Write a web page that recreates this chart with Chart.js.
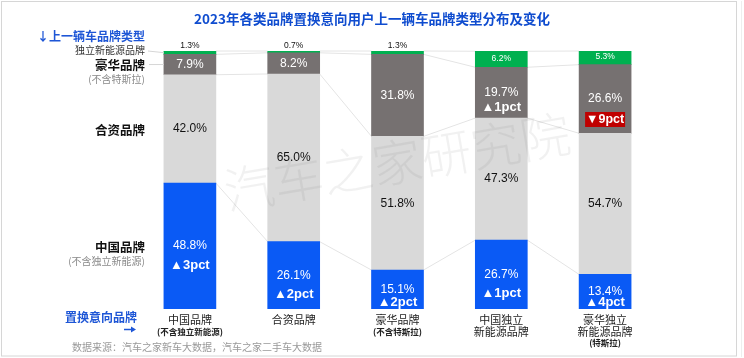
<!DOCTYPE html>
<html><head><meta charset="utf-8">
<script src="https://cdn.jsdelivr.net/npm/chart.js@4.4.1/dist/chart.umd.min.js"></script>
<style>html,body{margin:0;padding:0;background:#fff;}#wrap{width:744px;height:358px;position:relative;}canvas{display:block;}</style>
</head><body><div id="wrap"><canvas id="c" width="744" height="358"></canvas></div>
<script>
// ---- data ----
const title = '2023年各类品牌置换意向用户上一辆车品牌类型分布及变化';
const categories = [['中国品牌','(不含独立新能源)'],['合资品牌'],['豪华品牌','(不含特斯拉)'],['中国独立','新能源品牌'],['豪华独立','新能源品牌','(特斯拉)']];
const seriesNames = ['中国品牌','合资品牌','豪华品牌','独立新能源品牌'];
const seriesNotes = ['(不含独立新能源)', null, '(不含特斯拉)', null];
const chinaShare = [48.8, 26.1, 15.1, 26.7, 13.4];
const jvShare = [42.0, 65.0, 51.8, 47.3, 54.7];
const luxuryShare = [7.9, 8.2, 31.8, 19.7, 26.6];
const nevShare = [1.3, 0.7, 1.3, 6.2, 5.3];
const chinaChange = ['▲3pct', '▲2pct', '▲2pct', '▲1pct', '▲4pct'];
const luxuryChange = [null, null, null, '▲1pct', '▼9pct'];
const prevTypeHeader = '↓上一辆车品牌类型';
const intentHeader = '置换意向品牌';
const sourceNote = '数据来源：汽车之家新车大数据，汽车之家二手车大数据';
const watermark = '汽车之家研究院';

const colors = ['#0A5AF5', '#D9D9D9', '#767171', '#00B050'];
const NUM = "'Liberation Sans','Noto Sans CJK SC',sans-serif";
const CJK = "'Noto Sans CJK SC','Liberation Sans',sans-serif";

function txt(ctx, s, x, y, font, color, align) {
  ctx.font = font; ctx.fillStyle = color; ctx.textAlign = align || 'center'; ctx.textBaseline = 'middle';
  ctx.fillText(s, x, y);
}

const decor = {
  id: 'decor',
  beforeDatasetsDraw(chart) {
    const ctx = chart.ctx;
    const metas = [0,1,2,3].map(i => chart.getDatasetMeta(i));
    ctx.save();
    // series lines between bars
    ctx.strokeStyle = '#E4E4E4'; ctx.lineWidth = 1;
    for (let d = 0; d < 4; d++) {
      const els = metas[d].data;
      for (let i = 0; i < els.length - 1; i++) {
        const a = els[i], b = els[i + 1];
        ctx.beginPath();
        ctx.moveTo(a.x + a.width / 2, a.y);
        ctx.lineTo(b.x - b.width / 2, b.y);
        ctx.stroke();
      }
    }
    ctx.restore();
  },
  afterDatasetsDraw(chart) {
    const ctx = chart.ctx;
    const metas = [0,1,2,3].map(i => chart.getDatasetMeta(i));
    ctx.save();
    // watermark
    ctx.save();
    ctx.translate(397, 162);
    ctx.rotate(-0.17);
    ctx.font = "200 50px 'Noto Sans CJK SC'";
    ctx.fillStyle = 'rgba(120,120,120,0.10)';
    ctx.textAlign = 'center'; ctx.textBaseline = 'middle';
    ctx.fillText(watermark, 0, 0);
    ctx.restore();

    // value labels
    const vals = [chinaShare, jvShare, luxuryShare, nevShare];
    for (let d = 0; d < 4; d++) {
      metas[d].data.forEach((el, i) => {
        const top = el.y, bot = el.base, c = (top + bot) / 2, x = el.x;
        const v = vals[d][i].toFixed(1) + '%';
        if (d === 0) {
          txt(ctx, v, x, c, '12px ' + NUM, '#fff');
          txt(ctx, chinaChange[i], x, Math.min(c + 19, bot - 7), 'bold 13px ' + NUM, '#fff');
        } else if (d === 1) {
          txt(ctx, v, x, c, '12px ' + NUM, '#111');
        } else if (d === 2) {
          const ch = luxuryChange[i];
          txt(ctx, v, x, c, '12px ' + NUM, '#fff');
          if (ch) {
            if (ch.startsWith('▼')) {
              ctx.fillStyle = '#C00000';
              ctx.fillRect(x - 20, c + 13, 40, 15);
              txt(ctx, ch, x, c + 21, 'bold 12.5px ' + NUM, '#fff');
            } else {
              txt(ctx, ch, x, c + 15, 'bold 13px ' + NUM, '#fff');
            }
          }
        } else {
          if (bot - top >= 10) txt(ctx, v, x, c - 1, '8.5px ' + NUM, '#fff');
          else txt(ctx, v, x, top - 5, '8.5px ' + NUM, '#111');
        }
      });
    }

    // left series labels, aligned with first bar
    const lx = 145;
    const m0 = metas.map(m => m.data[0]);
    txt(ctx, seriesNames[3], lx, m0[3].y - 1, '10px ' + CJK, '#333', 'right');
    ctx.strokeStyle = '#D6D6D6'; ctx.lineWidth = 1;
    ctx.beginPath(); ctx.moveTo(148, m0[3].y); ctx.lineTo(m0[3].x - m0[3].width / 2, (m0[3].y + m0[3].base) / 2); ctx.stroke();
    [2, 1, 0].forEach(d => {
      const el = m0[d], c = (el.y + el.base) / 2 + 1;
      txt(ctx, seriesNames[d], lx, c, 'bold 12.5px ' + CJK, '#111', 'right');
      if (seriesNotes[d]) txt(ctx, seriesNotes[d], lx, c + 14, '10px ' + CJK, '#8a8a8a', 'right');
    });
    ctx.beginPath(); ctx.moveTo(149, (m0[2].y + m0[2].base) / 2); ctx.lineTo(m0[2].x - m0[2].width / 2, (m0[2].y + m0[2].base) / 2); ctx.stroke();

    // x category labels
    const xs = chart.scales.x;
    categories.forEach((lines, i) => {
      const x = xs.getPixelForValue(i);
      let y = 320;
      lines.forEach(s => {
        const small = s.startsWith('(');
        txt(ctx, s, x, y, (small ? 'bold 8.5px ' : '11px ') + CJK, '#222');
        y += small ? 10 : 11.5;
      });
    });

    // headers, title, source
    txt(ctx, title, 372, 19, 'bold 13.5px ' + CJK, '#0F4CCF');
    txt(ctx, prevTypeHeader, 145, 36, 'bold 12px ' + CJK, '#1E56D6', 'right');
    txt(ctx, intentHeader, 137, 317, 'bold 12px ' + CJK, '#1E56D6', 'right');
    // arrow under the intent header
    ctx.strokeStyle = '#1E56D6'; ctx.fillStyle = '#1E56D6'; ctx.lineWidth = 1.5;
    ctx.beginPath(); ctx.moveTo(124, 329.5); ctx.lineTo(133, 329.5); ctx.stroke();
    ctx.beginPath(); ctx.moveTo(136, 329.5); ctx.lineTo(131, 326.5); ctx.lineTo(131, 332.5); ctx.closePath(); ctx.fill();
    txt(ctx, sourceNote, 72, 347, '10px ' + CJK, '#999', 'left');

    // frame
    ctx.strokeStyle = '#D6D6D6'; ctx.lineWidth = 1;
    ctx.strokeRect(1.5, 1.5, 735, 354.5);
    ctx.strokeStyle = '#EEEEEE';
    ctx.beginPath(); ctx.moveTo(741.5, 1); ctx.lineTo(741.5, 357); ctx.stroke();
    ctx.restore();
  }
};

const datasets = [chinaShare, jvShare, luxuryShare, nevShare].map((arr, d) => ({
  label: seriesNames[d], data: arr, backgroundColor: colors[d], borderWidth: 0,
  barThickness: 52
}));

new Chart(document.getElementById('c'), {
  type: 'bar',
  data: { labels: categories.map(l => l.join('')), datasets },
  options: {
    responsive: false, animation: false, devicePixelRatio: 1,
    layout: { padding: { left: 138, right: 87, top: 51, bottom: 49 } },
    plugins: { legend: { display: false }, tooltip: { enabled: false } },
    scales: {
      x: { stacked: true, display: false, grid: { display: false } },
      y: { stacked: true, display: false, min: 0, max: 100 }
    }
  },
  plugins: [decor]
});
</script></body></html>
